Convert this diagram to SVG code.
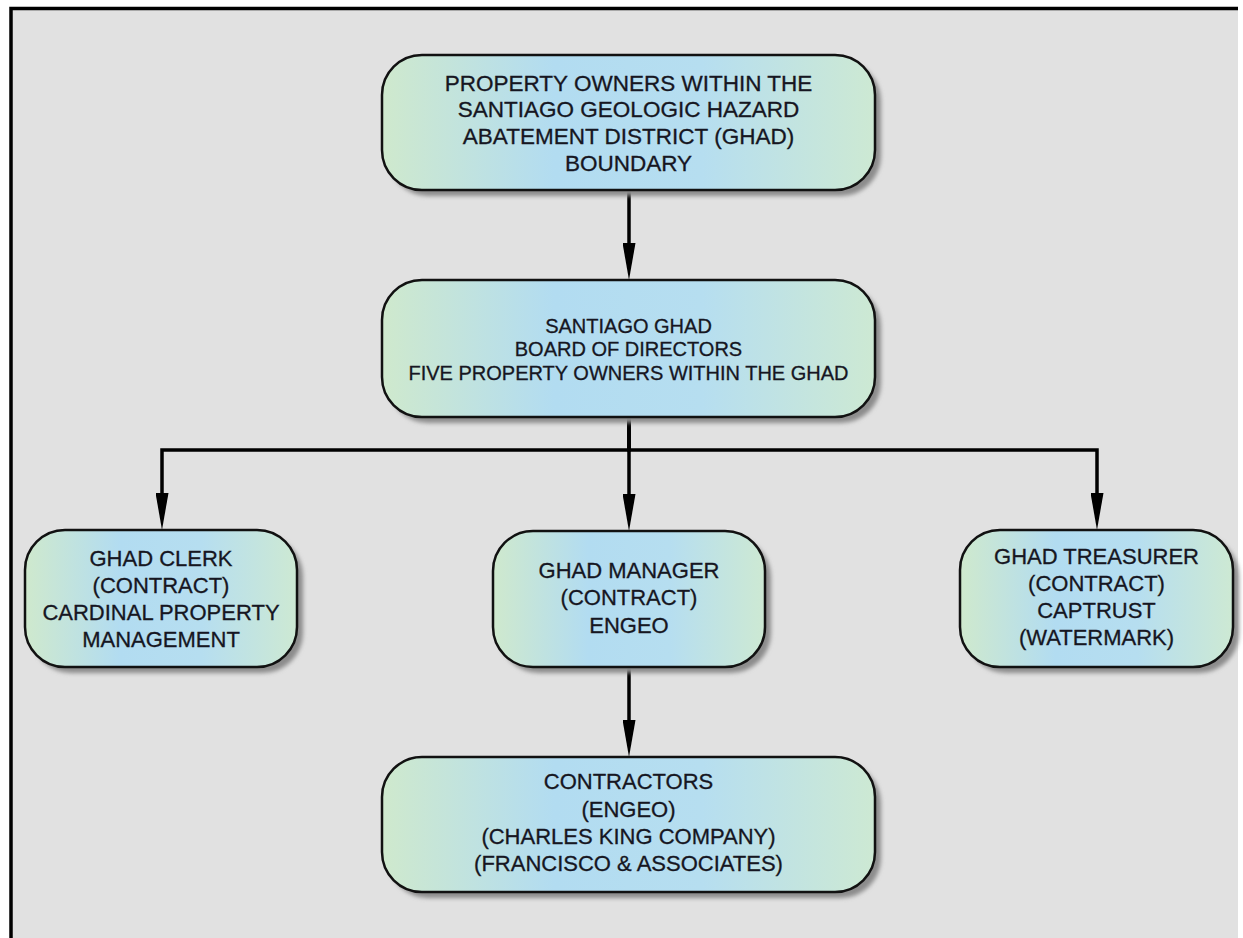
<svg xmlns="http://www.w3.org/2000/svg" width="1243" height="938" viewBox="0 0 1243 938">
<defs>
<style>
.box{fill:url(#g);stroke:#111;stroke-width:2.5}
.sh{fill:#8c8c8c;filter:url(#blur)}
.t{font-family:"Liberation Sans",Arial,sans-serif;fill:#161622;stroke:#161622;stroke-width:0.3;text-anchor:middle}
.t1{font-size:22.5px}
.t2{font-size:20px}
.t3{font-size:22px}
.c{fill:none;stroke:#000;stroke-width:3.5;marker-end:url(#arr)}
</style>
<linearGradient id="g" x1="0" y1="0" x2="1" y2="0">
<stop offset="0" stop-color="#cfe9cd"/>
<stop offset="0.35" stop-color="#b2dcf1"/>
<stop offset="0.65" stop-color="#b6def0"/>
<stop offset="1" stop-color="#cde9d3"/>
</linearGradient>
<filter id="blur" x="-10%" y="-10%" width="120%" height="120%"><feGaussianBlur stdDeviation="2"/></filter>
<marker id="arr" markerUnits="userSpaceOnUse" viewBox="0 0 37 13" markerWidth="37" markerHeight="13" refX="17" refY="6.5" orient="auto">
<path d="M0,0 L37,6.5 L0,13 z" fill="#000"/>
</marker>
</defs>
<rect x="0" y="0" width="1243" height="938" fill="#fff"/>
<rect x="11" y="8.5" width="1227" height="930" fill="#e1e1e1"/>
<path d="M11 938 V8.5 H1238" fill="none" stroke="#000" stroke-width="3.5"/>

<g id="connectors">
<path class="c" d="M629 190 V260"/>
<path class="c" d="M629 417 V450 H162 V510"/>
<path class="c" d="M629 417 V450 H1097 V510"/>
<path class="c" d="M629 417 V511"/>
<path class="c" d="M629 667 V737"/>
</g>

<g id="owners">
<rect class="sh" x="388" y="61" width="493" height="135" rx="40"/>
<rect class="box" x="382" y="55" width="493" height="135" rx="40"/>
<text class="t t1" x="628.5" y="91">PROPERTY OWNERS WITHIN THE</text>
<text class="t t1" x="628.5" y="117">SANTIAGO GEOLOGIC HAZARD</text>
<text class="t t1" x="628.5" y="144">ABATEMENT DISTRICT (GHAD)</text>
<text class="t t1" x="628.5" y="171">BOUNDARY</text>
</g>

<g id="board">
<rect class="sh" x="388" y="286" width="493" height="137" rx="40"/>
<rect class="box" x="382" y="280" width="493" height="137" rx="40"/>
<text class="t t2" x="628.5" y="333">SANTIAGO GHAD</text>
<text class="t t2" x="628.5" y="356">BOARD OF DIRECTORS</text>
<text class="t t2" x="628.5" y="380">FIVE PROPERTY OWNERS WITHIN THE GHAD</text>
</g>

<g id="clerk">
<rect class="sh" x="31" y="536" width="272" height="137" rx="40"/>
<rect class="box" x="25" y="530" width="272" height="137" rx="40"/>
<text class="t t3" x="161" y="566">GHAD CLERK</text>
<text class="t t3" x="161" y="593">(CONTRACT)</text>
<text class="t t3" x="161" y="620">CARDINAL PROPERTY</text>
<text class="t t3" x="161" y="647">MANAGEMENT</text>
</g>

<g id="manager">
<rect class="sh" x="499" y="537" width="272" height="136" rx="40"/>
<rect class="box" x="493" y="531" width="272" height="136" rx="40"/>
<text class="t t3" x="629" y="578">GHAD MANAGER</text>
<text class="t t3" x="629" y="605">(CONTRACT)</text>
<text class="t t3" x="629" y="633">ENGEO</text>
</g>

<g id="treasurer">
<rect class="sh" x="966" y="536" width="273" height="137" rx="40"/>
<rect class="box" x="960" y="530" width="273" height="137" rx="40"/>
<text class="t t3" x="1096.5" y="564">GHAD TREASURER</text>
<text class="t t3" x="1096.5" y="591">(CONTRACT)</text>
<text class="t t3" x="1096.5" y="618">CAPTRUST</text>
<text class="t t3" x="1096.5" y="645">(WATERMARK)</text>
</g>

<g id="contractors">
<rect class="sh" x="388" y="763" width="493" height="135" rx="40"/>
<rect class="box" x="382" y="757" width="493" height="135" rx="40"/>
<text class="t t3" x="628.5" y="789">CONTRACTORS</text>
<text class="t t3" x="628.5" y="817">(ENGEO)</text>
<text class="t t3" x="628.5" y="844">(CHARLES KING COMPANY)</text>
<text class="t t3" x="628.5" y="871">(FRANCISCO &amp; ASSOCIATES)</text>
</g>
</svg>
